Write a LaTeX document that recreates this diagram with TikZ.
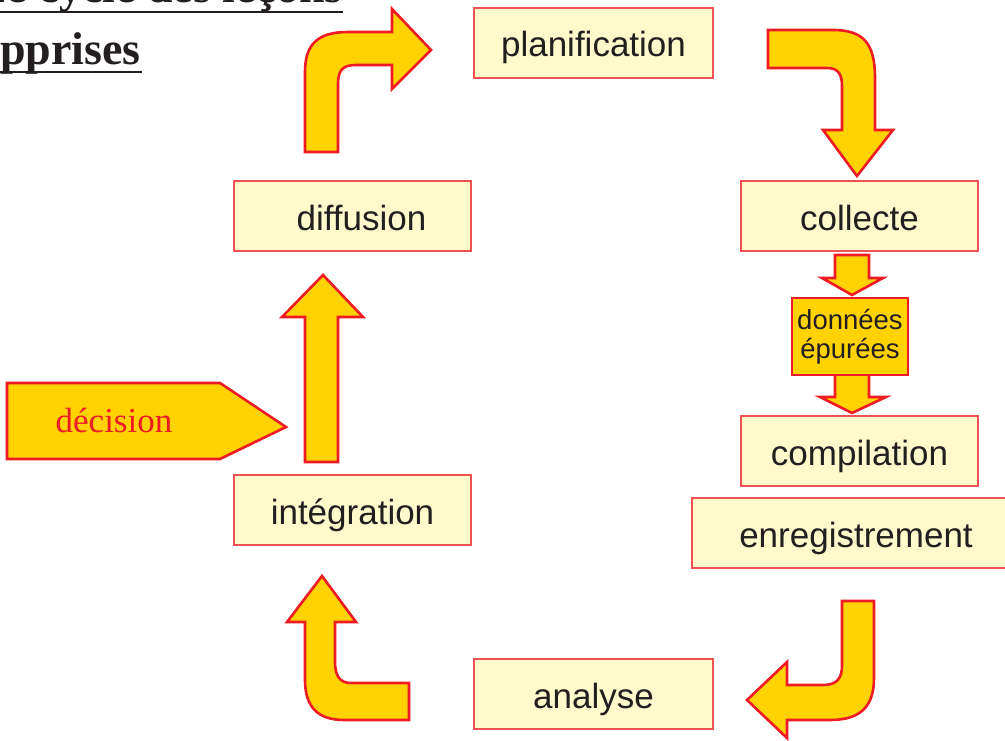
\documentclass[tikz,border=0pt]{standalone}
\usepackage{fontspec}
\setmainfont{Liberation Serif}
\newfontfamily\arial{Liberation Sans}
\definecolor{gold}{RGB}{255,210,0}
\definecolor{arrowred}{RGB}{237,28,36}
\definecolor{boxfill}{RGB}{255,249,204}
\definecolor{boxred}{RGB}{240,82,82}
\definecolor{ink}{RGB}{35,31,32}
\tikzset{
  stage/.style={draw=boxred, line width=1.2pt, fill=boxfill, inner sep=0pt,
    minimum width=237pt, minimum height=70pt, text height=31pt, text depth=3pt,
    text=ink, font=\arial\fontsize{35}{40}\selectfont},
  bigarrow/.style={draw=arrowred, line width=2.6pt, fill=gold, line join=miter},
  headline/.style={font=\bfseries\fontsize{46}{50}\selectfont, text=ink, inner sep=0pt},
  underline/.style={draw=ink, line width=2.2pt},
}
\begin{document}
\begin{tikzpicture}[x=1pt, y=-1pt]
\clip (0,0) rectangle (1005,741);
\fill[white] (0,0) rectangle (1005,741);

% title, running off the top edge
\node[headline, anchor=base east] (title1) at (343,3) {Le cycle des leçons};
\node[headline, anchor=base east] (title2) at (141,65) {pprises};
\draw[underline] (0,12) -- (343,12);
\draw[underline] (0,72) -- (142,72);

% stages of the cycle
\node[stage, minimum width=239pt] (plan) at (593.5,43) {planification};
\node[stage] (diff) at (352.5,216) {\hspace*{18pt}diffusion};
\node[stage] (coll) at (859.5,216) {collecte};
\node[stage] (comp) at (859.5,451) {compilation};
\node[stage, minimum width=328pt] (enreg) at (856,533) {enregistrement};
\node[stage] (integ) at (352.5,510) {intégration};
\node[stage, minimum width=239pt] (anal) at (593.5,694) {analyse};

% diffusion -> planification
\draw[bigarrow] (305,152) -- (305,72) .. controls (305,44) and (318,32) .. (348,32)
  -- (392,32) -- (392,9) -- (431,50) -- (392,89) -- (392,65) -- (356,65)
  .. controls (343,65) and (338,70) .. (338,84) -- (338,152) -- cycle;

% planification -> collecte
\draw[bigarrow] (768,30) -- (833,30) .. controls (864,30) and (875,44) .. (875,78)
  -- (875,130) -- (893,130) -- (857,176) -- (823,130) -- (842,130) -- (842,86)
  .. controls (842,74) and (838,68) .. (827,68) -- (768,68) -- cycle;

% collecte -> données épurées -> compilation
\draw[bigarrow] (835,255) -- (869,255) -- (869,278) -- (883,278) -- (852,295)
  -- (822,278) -- (835,278) -- cycle;
\draw[bigarrow] (835,370) -- (869,370) -- (869,397) -- (886,397) -- (852,413)
  -- (820,397) -- (835,397) -- cycle;
\node[draw=arrowred, line width=2.6pt, fill=gold, minimum width=116pt,
  minimum height=77pt, inner sep=0pt, align=center, text=ink,
  font=\arial\fontsize{27.5}{29}\selectfont] (clean) at (850,336.5)
  {données\\épurées};

% enregistrement -> analyse
\draw[bigarrow] (842,601) -- (874,601) -- (874,678) .. controls (874,707) and (860,720) .. (830,720)
  -- (787,720) -- (787,738) -- (747,700) -- (787,662) -- (787,685) -- (823,685)
  .. controls (836,685) and (842,679) .. (842,666) -- cycle;

% analyse -> intégration
\draw[bigarrow] (409,683) -- (351,683) .. controls (340,683) and (335,676) .. (335,662)
  -- (335,622) -- (356,622) -- (322,576) -- (287,622) -- (305,622) -- (305,680)
  .. controls (305,707) and (318,720) .. (344,720) -- (409,720) -- cycle;

% intégration -> diffusion
\draw[bigarrow] (305,462) -- (305,317) -- (282,317) -- (323,275) -- (363,317)
  -- (338,317) -- (338,462) -- cycle;

% décision
\draw[bigarrow] (7,383) -- (220,383) -- (286,427) -- (220,459) -- (7,459) -- cycle;
\node[anchor=base, inner sep=0pt, text=arrowred, font=\fontsize{35}{40}\selectfont]
  (decision) at (114,432) {décision};
\end{tikzpicture}
\end{document}
